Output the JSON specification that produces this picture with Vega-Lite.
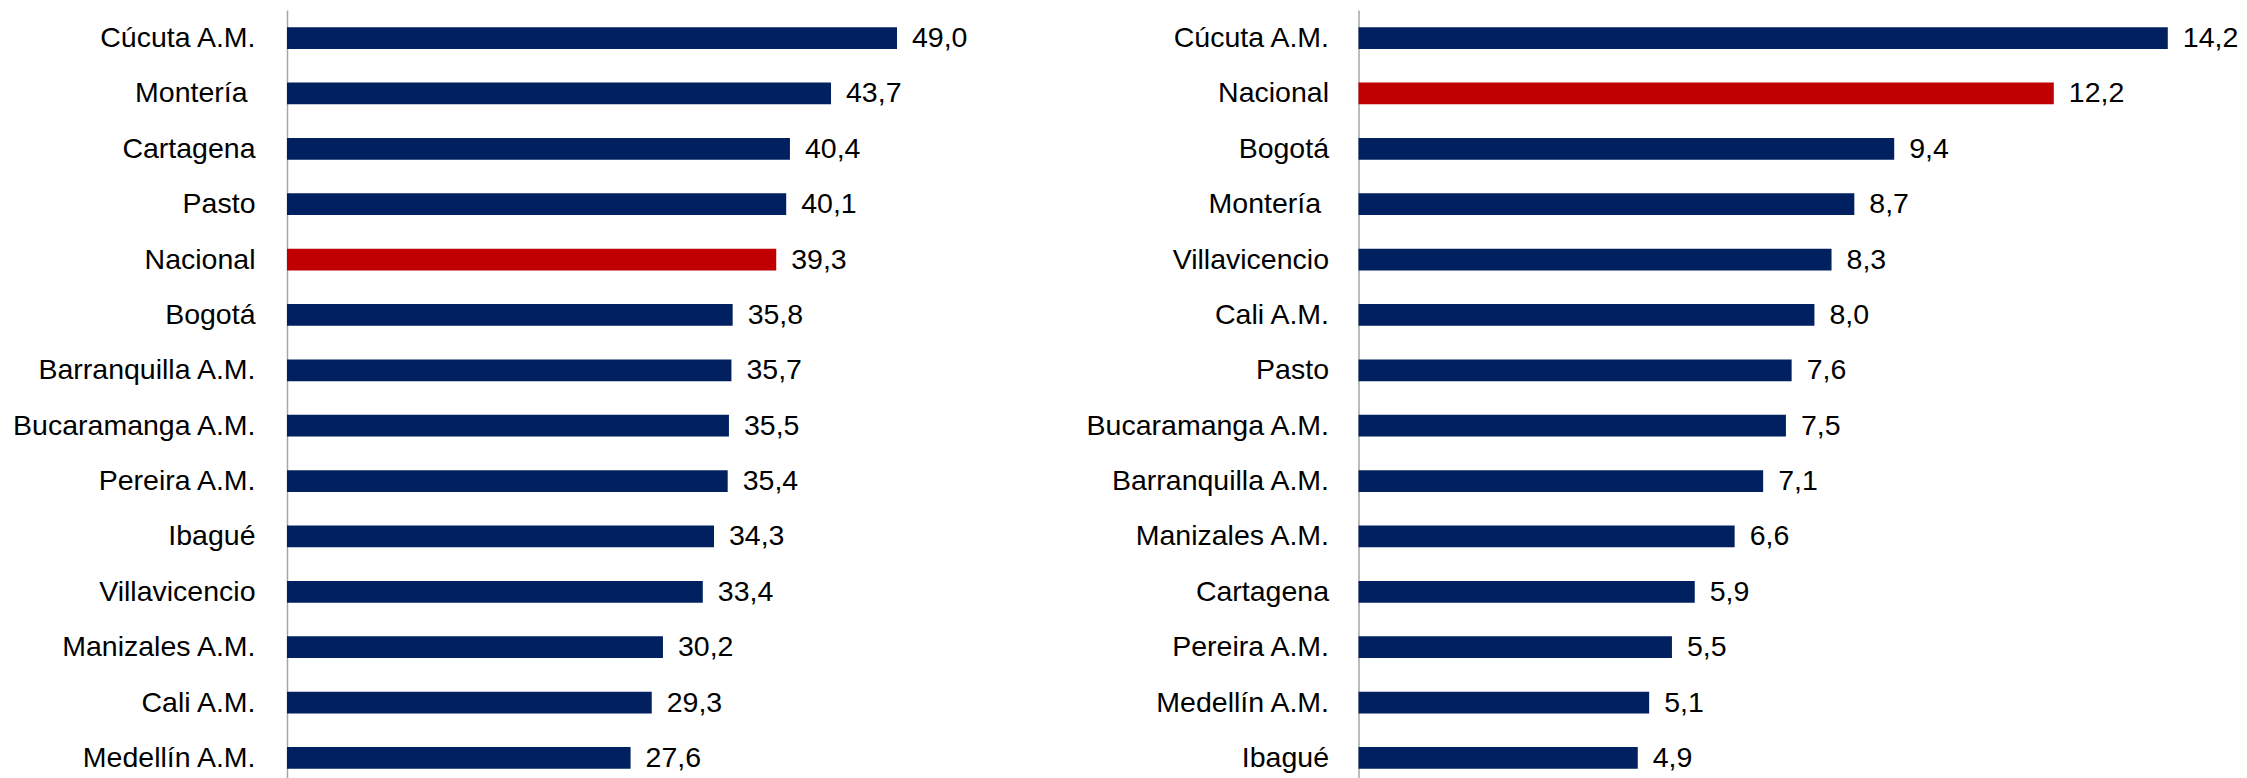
{
  "$schema": "https://vega.github.io/schema/vega-lite/v6.json",
  "autosize": {"type": "none"},
  "width": 2247,
  "height": 776,
  "padding": {"left": 0, "top": 10, "right": 0, "bottom": 0},
  "background": "white",
  "config": {
    "view": {"stroke": null},
    "locale": {"number": {"decimal": ",", "thousands": ".", "grouping": [3], "currency": ["$", ""]}},
    "font": "Liberation Sans"
  },
  "datasets": {
    "izq": [
      {"ciudad": "Cúcuta A.M.", "valor": 49.0},
      {"ciudad": "Montería\u00a0\u2060", "valor": 43.7},
      {"ciudad": "Cartagena", "valor": 40.4},
      {"ciudad": "Pasto", "valor": 40.1},
      {"ciudad": "Nacional", "valor": 39.3},
      {"ciudad": "Bogotá", "valor": 35.8},
      {"ciudad": "Barranquilla A.M.", "valor": 35.7},
      {"ciudad": "Bucaramanga A.M.", "valor": 35.5},
      {"ciudad": "Pereira A.M.", "valor": 35.4},
      {"ciudad": "Ibagué", "valor": 34.3},
      {"ciudad": "Villavicencio", "valor": 33.4},
      {"ciudad": "Manizales A.M.", "valor": 30.2},
      {"ciudad": "Cali A.M.", "valor": 29.3},
      {"ciudad": "Medellín A.M.", "valor": 27.6}
    ],
    "der": [
      {"ciudad": "Cúcuta A.M.", "valor": 14.2},
      {"ciudad": "Nacional", "valor": 12.2},
      {"ciudad": "Bogotá", "valor": 9.4},
      {"ciudad": "Montería\u00a0\u2060", "valor": 8.7},
      {"ciudad": "Villavicencio", "valor": 8.3},
      {"ciudad": "Cali A.M.", "valor": 8.0},
      {"ciudad": "Pasto", "valor": 7.6},
      {"ciudad": "Bucaramanga A.M.", "valor": 7.5},
      {"ciudad": "Barranquilla A.M.", "valor": 7.1},
      {"ciudad": "Manizales A.M.", "valor": 6.6},
      {"ciudad": "Cartagena", "valor": 5.9},
      {"ciudad": "Pereira A.M.", "valor": 5.5},
      {"ciudad": "Medellín A.M.", "valor": 5.1},
      {"ciudad": "Ibagué", "valor": 4.9}
    ]
  },
  "resolve": {"scale": {"x": "independent", "y": "independent"}, "axis": {"x": "independent", "y": "independent"}},
  "layer": [
    {
      "data": {"name": "izq"},
      "encoding": {
        "y": {
          "field": "ciudad", "type": "nominal", "sort": "-x",
          "scale": {"paddingInner": 0.608, "paddingOuter": 0.31},
          "axis": {"title": null, "orient": "left", "offset": -287, "ticks": false, "domain": true, "domainColor": "#A6A6A6", "domainWidth": 1.5,
                   "labelFont": "Liberation Sans", "labelFontSize": 28.5, "labelColor": "#000000", "labelPadding": 32, "labelLimit": 400}
        },
        "x": {"field": "valor", "type": "quantitative", "scale": {"domain": [0, 56.23], "range": [287, 987], "nice": false, "zero": true}, "axis": null}
      },
      "layer": [
        {
          "mark": {"type": "bar"},
          "encoding": {
            "color": {"condition": {"test": "datum.ciudad === 'Nacional'", "value": "#C00000"}, "value": "#002060"}
          }
        },
        {
          "mark": {"type": "text", "align": "left", "baseline": "middle", "dx": 15, "fontSize": 28.5, "font": "Liberation Sans", "color": "#000000"},
          "encoding": {"text": {"field": "valor", "type": "quantitative", "format": ".1f"}}
        }
      ]
    },
    {
      "data": {"name": "der"},
      "encoding": {
        "y": {
          "field": "ciudad", "type": "nominal", "sort": "-x",
          "scale": {"paddingInner": 0.608, "paddingOuter": 0.31},
          "axis": {"title": null, "orient": "left", "offset": -1358.5, "ticks": false, "domain": true, "domainColor": "#A6A6A6", "domainWidth": 1.5,
                   "labelFont": "Liberation Sans", "labelFontSize": 28.5, "labelColor": "#000000", "labelPadding": 30, "labelLimit": 400}
        },
        "x": {"field": "valor", "type": "quantitative", "scale": {"domain": [0, 15.59], "range": [1358.5, 2247], "nice": false, "zero": true}, "axis": null}
      },
      "layer": [
        {
          "mark": {"type": "bar"},
          "encoding": {
            "color": {"condition": {"test": "datum.ciudad === 'Nacional'", "value": "#C00000"}, "value": "#002060"}
          }
        },
        {
          "mark": {"type": "text", "align": "left", "baseline": "middle", "dx": 15, "fontSize": 28.5, "font": "Liberation Sans", "color": "#000000"},
          "encoding": {"text": {"field": "valor", "type": "quantitative", "format": ".1f"}}
        }
      ]
    }
  ]
}
